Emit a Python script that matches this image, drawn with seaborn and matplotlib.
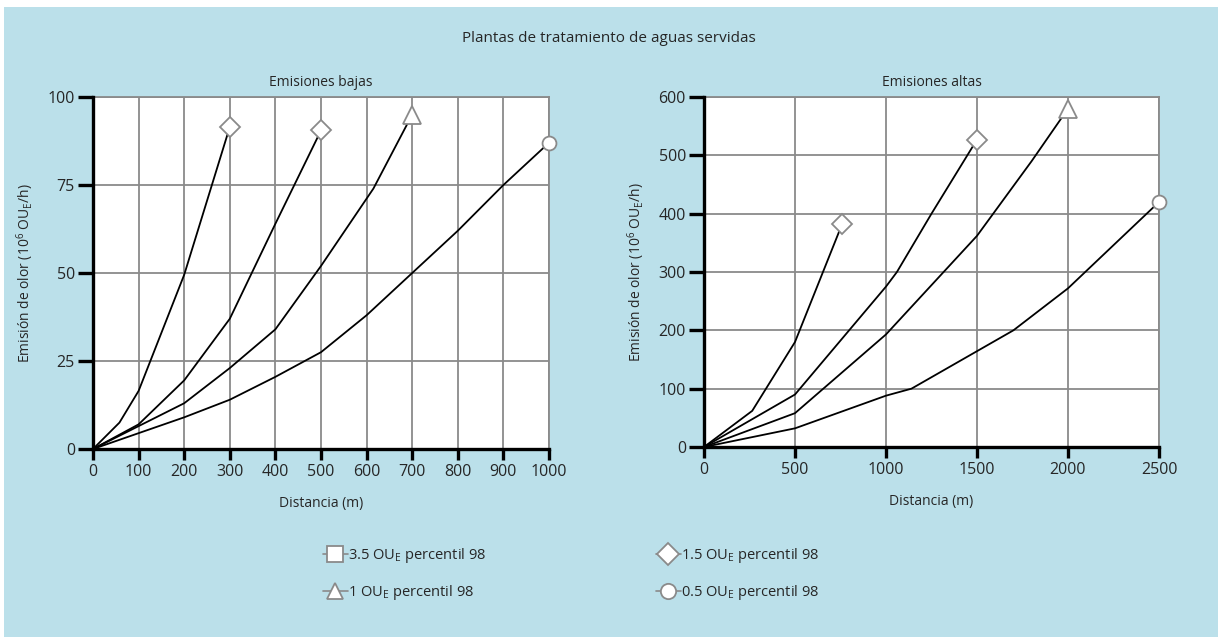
import matplotlib
matplotlib.use('Agg')
from matplotlib import pyplot as plt
from matplotlib.lines import Line2D
from matplotlib.patches import Rectangle
import seaborn as sns
import pandas as pd

sns.set_style('white')
plt.rcParams['font.family'] = ['Open Sans', 'DejaVu Sans']
plt.rcParams['mathtext.fontset'] = 'custom'
plt.rcParams['mathtext.rm'] = 'Open Sans'

BG = '#BBE0EA'
GRID = '#8a8a8a'

# ---- data: emisiones bajas ----
low_a_x = [0, 58, 100, 200, 300]
low_a_y = [0, 7.5, 16.5, 49.5, 91.5]
low_b_x = [0, 100, 200, 300, 400, 500]
low_b_y = [0, 7, 19.5, 37, 64, 90.5]
low_c_x = [0, 100, 200, 300, 400, 500, 615, 700]
low_c_y = [0, 6.5, 13, 23, 34, 52, 74, 95]
low_d_x = [0, 100, 200, 300, 400, 500, 600, 700, 800, 900, 1000]
low_d_y = [0, 4.5, 9, 14, 20.5, 27.5, 38, 50, 62, 75, 87]

# ---- data: emisiones altas ----
high_a_x = [0, 265, 500, 760]
high_a_y = [0, 62, 180, 383]
high_b_x = [0, 500, 1000, 1060, 1250, 1500]
high_b_y = [0, 90, 275, 300, 400, 527]
high_c_x = [0, 500, 1000, 1500, 1800, 2000]
high_c_y = [0, 58, 193, 362, 490, 580]
high_d_x = [0, 500, 1000, 1140, 1700, 2000, 2500]
high_d_y = [0, 32, 88, 100, 200, 272, 420]

end_markers = ['D', 'D', '^', 'o']
marker_sizes = [10, 10, 13, 10]

legend_labels = ['3.5 OU$_{\\mathrm{E}}$ percentil 98', '1 OU$_{\\mathrm{E}}$ percentil 98',
                 '1.5 OU$_{\\mathrm{E}}$ percentil 98', '0.5 OU$_{\\mathrm{E}}$ percentil 98']
legend_markers = ['s', '^', 'D', 'o']

fig = plt.figure(figsize=(12.18, 6.37), dpi=100)
fig.patch.set_facecolor('white')
fig.patches.append(Rectangle((4 / 1218, 0), 1, 1 - 7 / 637, transform=fig.transFigure,
                             facecolor=BG, edgecolor='none', zorder=-10))

ax1 = fig.add_axes([93 / 1218, 1 - 449 / 637, 456 / 1218, 352 / 637])
ax2 = fig.add_axes([704 / 1218, 1 - 447 / 637, 455 / 1218, 350 / 637])


def draw(ax, series, xlim, ylim, xticks, yticks, subtitle):
    ax.set_facecolor('white')
    for (xs, ys), m, ms in zip(series, end_markers, marker_sizes):
        sns.lineplot(x=xs, y=ys, ax=ax, color='black', lw=1.3, sort=False,
                     estimator=None, zorder=3)
        ax.plot(xs[-1], ys[-1], marker=m, ms=ms, mfc='white', mec=GRID, mew=1.3,
                clip_on=False, zorder=5, ls='none')
    ax.set_xlim(xlim)
    ax.set_ylim(ylim)
    ax.set_xticks(xticks)
    ax.set_yticks(yticks)
    ax.grid(True, color=GRID, lw=1.3)
    ax.set_axisbelow(True)
    for s in ['top', 'right']:
        ax.spines[s].set_color(GRID)
        ax.spines[s].set_linewidth(1.3)
    for s in ['left', 'bottom']:
        ax.spines[s].set_color('black')
        ax.spines[s].set_linewidth(2.4)
        ax.spines[s].set_zorder(4)
    ax.tick_params(axis='both', which='major', direction='out', length=8, width=2.4,
                   color='black', labelsize=11.5, pad=3, bottom=True, left=True,
                   top=False, right=False)
    ax.tick_params(axis='y', length=11, pad=2)
    ax.set_xlabel('Distancia (m)', fontsize=10, labelpad=11)
    ax.set_ylabel('Emisión de olor (10$^6$ OU$_{\\mathrm{E}}$/h)', fontsize=10, labelpad=8)
    ax.set_title(subtitle, fontsize=10, pad=8)


draw(ax1, [(low_a_x, low_a_y), (low_b_x, low_b_y), (low_c_x, low_c_y), (low_d_x, low_d_y)],
     (0, 1000), (0, 100), range(0, 1001, 100), [0, 25, 50, 75, 100], 'Emisiones bajas')
draw(ax2, [(high_a_x, high_a_y), (high_b_x, high_b_y), (high_c_x, high_c_y), (high_d_x, high_d_y)],
     (0, 2500), (0, 600), range(0, 2501, 500), range(0, 601, 100), 'Emisiones altas')

fig.text(0.5, 1 - 38 / 637, 'Plantas de tratamiento de aguas servidas', ha='center',
         va='center', fontsize=11)

handles = [Line2D([0], [0], color=GRID, lw=1.2, marker=m, ms=11 if m != '^' else 12,
                  mfc='white', mec=GRID, mew=1.3) for m in legend_markers]
fig.legend(handles, legend_labels, ncol=2, loc='center', bbox_to_anchor=(0.469, 1 - 574 / 637),
           frameon=False, fontsize=10.5, handlelength=1.7, handletextpad=0.05,
           columnspacing=11.6, labelspacing=1.2)

plt.savefig('out.png', dpi=100)
